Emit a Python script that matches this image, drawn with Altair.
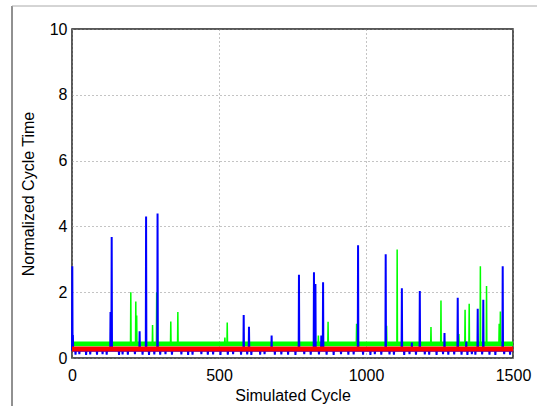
import altair as alt
import pandas as pd

# ---------------- data ----------------
X_MAX = 1500

# blue series: baseline (mostly hidden under red), spikes and short dips
blue_base = 0.22
blue_spike_cycles = [1, 3, 131, 135, 230, 252, 291, 584, 602, 679, 772, 823, 828,
                     848, 854, 973, 1067, 1122, 1156, 1183, 1267, 1312, 1341,
                     1380, 1399, 1465]
blue_spike_values = [2.79, 0.70, 1.40, 3.68, 0.81, 4.30, 4.39, 1.31, 0.95, 0.68,
                     2.53, 2.61, 2.25, 0.68, 2.30, 3.43, 3.15, 2.12, 0.47, 2.04,
                     0.76, 1.83, 0.50, 1.50, 1.77, 2.79]
blue_dip_cycles = [12, 25, 48, 62, 85, 104, 118, 160, 172, 190, 214, 240, 262,
                   280, 300, 318, 340, 372, 395, 410, 440, 462, 480, 505, 530,
                   548, 575, 596, 610, 640, 655, 690, 712, 735, 760, 790, 812,
                   840, 866, 890, 915, 940, 958, 990, 1015, 1030, 1052, 1080,
                   1095, 1130, 1148, 1170, 1200, 1215, 1240, 1262, 1280, 1300,
                   1325, 1345, 1360, 1372, 1395, 1420, 1440, 1470, 1490]
blue_dip_values = [0.10, 0.12, 0.09, 0.11, 0.10, 0.12, 0.10, 0.09, 0.11, 0.10,
                   0.12, 0.10, 0.09, 0.11, 0.10, 0.12, 0.10, 0.11, 0.09, 0.10,
                   0.12, 0.10, 0.11, 0.09, 0.10, 0.12, 0.10, 0.11, 0.09, 0.10,
                   0.12, 0.10, 0.11, 0.10, 0.09, 0.12, 0.10, 0.11, 0.10, 0.09,
                   0.12, 0.10, 0.11, 0.10, 0.09, 0.12, 0.10, 0.11, 0.10, 0.09,
                   0.12, 0.10, 0.11, 0.10, 0.09, 0.12, 0.10, 0.11, 0.10, 0.09,
                   0.12, 0.10, 0.11, 0.10, 0.09, 0.12, 0.10]

# green series: baseline band and spikes
green_base = 0.43
green_spike_cycles = [200, 217, 220, 274, 288, 336, 360, 520, 528, 838, 871,
                      968, 1070, 1106, 1221, 1255, 1316, 1337, 1351, 1389, 1410,
                      1453, 1457]
green_spike_values = [2.00, 1.72, 1.29, 1.00, 2.00, 1.11, 1.40, 0.62, 1.08,
                      0.68, 1.10, 1.04, 0.98, 3.30, 0.94, 1.75, 0.73, 1.47,
                      1.65, 2.79, 2.19, 1.04, 1.41]

# baseline noise bands (low / high edge of the band)
band_series = ["Green", "Red"]
band_lo = [0.36, 0.20]
band_hi = [0.50, 0.35]

x_ticks = [0, 500, 1000, 1500]
y_ticks = [0, 2, 4, 6, 8, 10]

# ---------------- build tables ----------------
def build(series, base, cycles, values):
    pts = [(0, base), (X_MAX, base)]
    for c, v in zip(cycles, values):
        pts += [(max(c - 1, 0), base), (c, v), (c + 1, base)]
    pts.sort(key=lambda p: p[0])
    return pd.DataFrame({"series": series,
                         "cycle": [p[0] for p in pts],
                         "value": [p[1] for p in pts],
                         "idx": list(range(len(pts)))})

blue_df = build("Blue", blue_base,
                blue_spike_cycles + blue_dip_cycles,
                blue_spike_values + blue_dip_values)
green_df = build("Green", green_base, green_spike_cycles, green_spike_values)

band_df = pd.DataFrame({"series": band_series,
                        "cycle": [0] * len(band_series),
                        "cycle_end": [X_MAX] * len(band_series),
                        "value": band_lo,
                        "value_hi": band_hi})

FONT = "Liberation Sans"

x_enc = alt.X("cycle:Q",
              scale=alt.Scale(domain=[0, X_MAX], nice=False, zero=False),
              axis=alt.Axis(values=x_ticks, title="Simulated Cycle", format="d",
                            labelFlush=False, labelPadding=9, titlePadding=4))
y_enc = alt.Y("value:Q",
              scale=alt.Scale(domain=[0, 10], nice=False),
              axis=alt.Axis(values=y_ticks, title="Normalized Cycle Time",
                            format="d", labelFlush=False,
                            labelPadding=5, titlePadding=13))

colors = {"Green": "#00FF00", "Blue": "#0000FF", "Red": "#FF0000"}

green_band = alt.Chart(band_df).transform_filter(
    alt.datum.series == "Green").mark_rect(color=colors["Green"]).encode(
    x=x_enc, x2="cycle_end:Q", y=y_enc, y2="value_hi:Q")

green_line = alt.Chart(green_df).mark_line(
    color=colors["Green"], strokeWidth=1.5, strokeJoin="bevel").encode(
    x=x_enc, y=y_enc, order="idx:Q")

blue_line = alt.Chart(blue_df).mark_line(
    color=colors["Blue"], strokeWidth=2, strokeJoin="bevel").encode(
    x=x_enc, y=y_enc, order="idx:Q")

red_band = alt.Chart(band_df).transform_filter(
    alt.datum.series == "Red").mark_rect(color=colors["Red"]).encode(
    x=x_enc, x2="cycle_end:Q", y=y_enc, y2="value_hi:Q")

# decorative figure frame (cropped figure border)
frame_df = alt.Data(values=[{"k": 1}])
frame_left = alt.Chart(frame_df).mark_rule(color="#222", strokeWidth=1).encode(
    x=alt.value(-60), y=alt.value(-23), y2=alt.value(377))
frame_top = alt.Chart(frame_df).mark_rule(color="#aaa", strokeWidth=1).encode(
    x=alt.value(-60), x2=alt.value(465), y=alt.value(-23))

chart = alt.layer(green_band, green_line, blue_line, red_band,
                  frame_left, frame_top).properties(
    width=441, height=329,
    padding={"left": 72, "top": 29, "right": 24, "bottom": 48},
    autosize=alt.AutoSizeParams(type="none"),
    background="white",
).configure_view(
    stroke="#222", strokeWidth=1.5
).configure_axis(
    domain=False, ticks=False,
    grid=True, gridColor="#888", gridDash=[1, 3], gridWidth=1,
    labelFont=FONT, labelFontSize=16, labelColor="#000",
    titleFont=FONT, titleFontSize=16, titleColor="#000", titleFontWeight="normal",
)

chart.save("out.html", embed_options={"renderer": "svg", "actions": False})
